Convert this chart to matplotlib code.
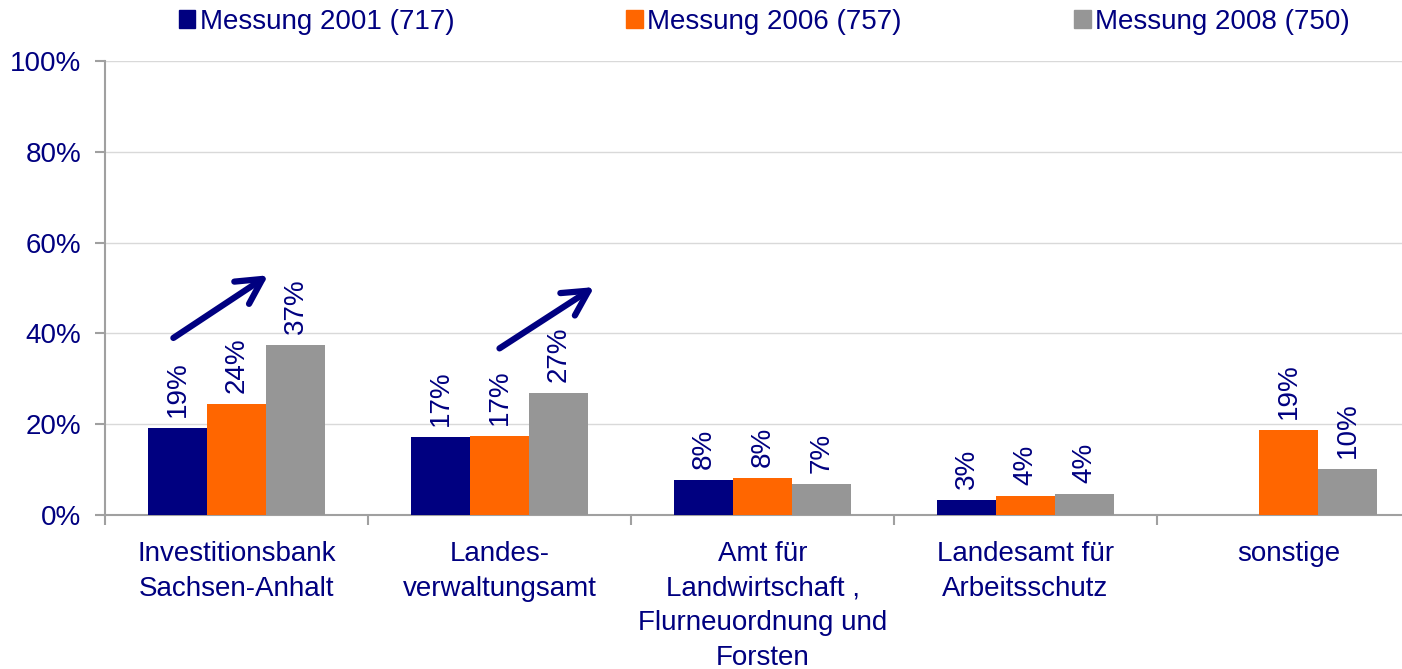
import numpy as np
import matplotlib
matplotlib.use('Agg')
import matplotlib.pyplot as plt
from matplotlib.patches import Patch

plt.rcParams['font.family'] = ['Liberation Sans', 'DejaVu Sans']

# data
categories = ['Investitionsbank\nSachsen-Anhalt', 'Landes-\nverwaltungsamt',
              'Amt für\nLandwirtschaft ,\nFlurneuordnung und\nForsten',
              'Landesamt für\nArbeitsschutz', 'sonstige']
series_names = ['Messung 2001 (717)', 'Messung 2006 (757)', 'Messung 2008 (750)']
m2001 = [19.2, 17.2, 7.7, 3.3, np.nan]
m2006 = [24.4, 17.4, 8.1, 4.2, 18.7]
m2008 = [37.4, 26.9, 6.8, 4.6, 10.1]
labels2001 = ['19%', '17%', '8%', '3%', '']
labels2006 = ['24%', '17%', '8%', '4%', '19%']
labels2008 = ['37%', '27%', '7%', '4%', '10%']
yticks = [0, 20, 40, 60, 80, 100]
yticklabels = ['0%', '20%', '40%', '60%', '80%', '100%']

# trend arrows (tail x, tail y, head x, head y) in data coords
arrows = [(-0.24, 39.0, 0.12, 52.8),
          (1.00, 36.7, 1.36, 50.2)]

navy = '#000080'
colors = ['#000080', '#FF6600', '#969696']
fs = 20

fig = plt.figure(figsize=(14.02, 6.69), dpi=100)
ax = fig.add_axes([105/1402., 1-515/669., 263*5/1402., (515-61)/669.])

x = np.arange(len(categories))
w = 0.224
allvals = [m2001, m2006, m2008]
alllabs = [labels2001, labels2006, labels2008]
for i in range(3):
  xs = x + (i-1)*w
  ax.bar(xs, allvals[i], w, color=colors[i], zorder=3)
  for xx, v, lab in zip(xs, allvals[i], alllabs[i]):
    if np.isnan(v):
      continue
    ax.annotate(lab, (xx, v), xytext=(0, 8), textcoords='offset points',
                rotation=90, ha='center', va='bottom', color=navy, fontsize=fs)

for (x0, y0, x1, y1) in arrows:
  ax.annotate('', xy=(x1, y1), xytext=(x0, y0),
              arrowprops=dict(arrowstyle='->,head_length=0.9,head_width=0.48',
                              mutation_scale=20, color=navy, lw=4.5,
                              shrinkA=0, shrinkB=0))

ax.set_xlim(-0.5, 4.5)
ax.set_ylim(0, 100)
ax.set_yticks(yticks)
ax.set_yticklabels(yticklabels)
ax.set_xticks(np.arange(-0.5, 5.0, 1.0))
ax.set_xticklabels([])
ax.set_xticks(x, minor=True)
ax.set_xticklabels(categories, minor=True)
ax.tick_params(axis='x', which='minor', length=0, pad=19, labelsize=fs, labelcolor=navy)
ax.tick_params(axis='x', which='major', length=7, width=1.5, color='#a0a0a0', direction='out')
ax.tick_params(axis='y', length=7, width=1.5, color='#a0a0a0', labelsize=fs,
               labelcolor=navy, pad=10)
for lab in ax.get_xticklabels(minor=True):
  lab.set_linespacing(1.42)

ax.grid(axis='y', color='#d9d9d9', lw=1, zorder=0)
ax.set_axisbelow(True)
for s in ['top', 'right']:
  ax.spines[s].set_visible(False)
ax.spines['left'].set_color('#a0a0a0')
ax.spines['bottom'].set_color('#a0a0a0')
ax.spines['left'].set_linewidth(1.5)
ax.spines['bottom'].set_linewidth(1.5)

handles = [Patch(color=c) for c in colors]
leg = fig.legend(handles, series_names, loc='center', bbox_to_anchor=(0.545, 1-22/669.),
                 ncol=3, frameon=False, fontsize=fs, handlelength=0.6, handleheight=0.6,
                 handletextpad=0.15, columnspacing=6.2, borderaxespad=0)
for t in leg.get_texts():
  t.set_color(navy)

fig.savefig('out.png', dpi=100)
